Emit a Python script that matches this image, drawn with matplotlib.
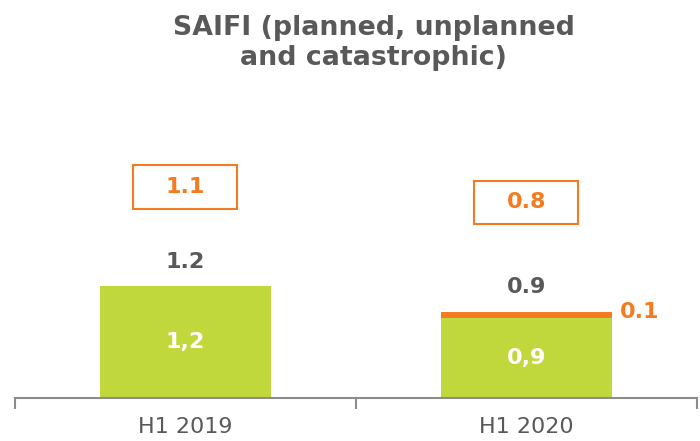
import numpy as np
import matplotlib.pyplot as plt
from matplotlib.patches import Rectangle

# data
periods = ['H1 2019', 'H1 2020']
planned = [1.2, 0.86]          # green part
catastrophic = [0.0, 0.065]    # orange part
green_labels = ['1,2', '0,9']
total_labels = ['1.2', '0.9']
cat_labels = ['', '0.1']
boxed_labels = ['1.1', '0.8']

GREEN = '#C0D83C'
ORANGE = '#F47B20'
GREY = '#595959'
AXIS = '#8C8C8C'

fig = plt.figure(figsize=(7, 4.41), dpi=100)
ax = fig.add_axes([0.021, 0.0975, 0.975, 0.635])

x = np.arange(len(periods))
ax.bar(x, planned, width=0.5, color=GREEN)
ax.bar(x, catastrophic, width=0.5, bottom=planned, color=ORANGE)

tops = np.array(planned) + np.array(catastrophic)
for i in x:
    ax.text(i, planned[i] / 2, green_labels[i], ha='center', va='center',
            color='white', fontsize=16, fontweight='bold')
    ax.text(i, tops[i] + 0.26, total_labels[i], ha='center', va='center',
            color=GREY, fontsize=16, fontweight='bold')
    if cat_labels[i]:
        ax.text(i + 0.33, tops[i], cat_labels[i], ha='center', va='center',
                color=ORANGE, fontsize=16, fontweight='bold')

# boxed values above the bars
box_y = [2.26, 2.095]
for i in x:
    ax.add_patch(Rectangle((i - 0.153, box_y[i] - 0.235), 0.305, 0.47,
                           fill=False, edgecolor=ORANGE, lw=1.5))
    ax.text(i, box_y[i], boxed_labels[i], ha='center', va='center',
            color=ORANGE, fontsize=16, fontweight='bold')

ax.set_xlim(-0.5, 1.5)
ax.set_ylim(0, 3.0)
for s in ['top', 'right', 'left']:
    ax.spines[s].set_visible(False)
ax.spines['bottom'].set_color(AXIS)
ax.spines['bottom'].set_linewidth(1.5)
ax.set_yticks([])
ax.set_xticks(x)
ax.set_xticklabels(periods, fontsize=16, color=GREY)
ax.tick_params(axis='x', which='major', length=0, pad=14)
ax.set_xticks([-0.5, 0.5, 1.5], minor=True)
ax.tick_params(axis='x', which='minor', length=8, width=1.5, color=AXIS)

fig.text(0.534, 0.903, 'SAIFI (planned, unplanned\nand catastrophic)',
         ha='center', va='center', fontsize=19.3, fontweight='bold',
         color=GREY, linespacing=1.2)

fig.savefig('out.png', dpi=100)
